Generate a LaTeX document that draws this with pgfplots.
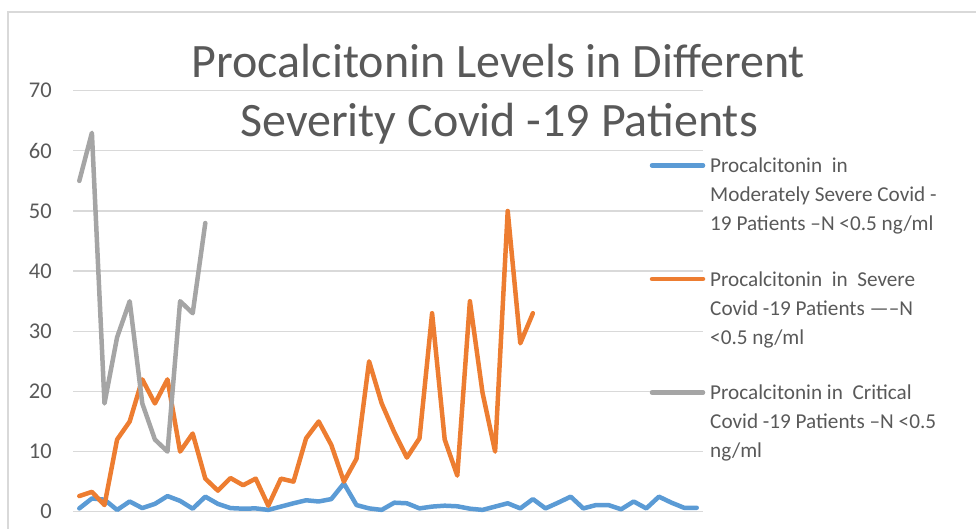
\documentclass[border=0pt]{standalone}
\usepackage{pgfplots}
\pgfplotsset{compat=1.18}
\usepackage{fontspec}
\setmainfont{Carlito}
\definecolor{txt}{HTML}{595959}
\definecolor{gridc}{HTML}{D9D9D9}
\definecolor{cblue}{HTML}{5B9BD5}
\definecolor{corange}{HTML}{ED7D31}
\definecolor{cgray}{HTML}{A5A5A5}

% 1pt = 1px of the reference, y measured from the bottom
\newcommand{\lgline}[2]{\node[anchor=base west,inner sep=0pt,text=txt,font=\fontsize{21.2}{24}\selectfont] at (710,#1) {#2};}

\begin{document}
\begin{tikzpicture}[x=1pt,y=1pt]
\useasboundingbox (0,0) rectangle (976,528);
\draw[gridc, line width=1.3pt] (8,-10) -- (8,516) -- (990,516);

\begin{axis}[
  at={(73pt,16.3pt)}, anchor=south west,
  scale only axis, width=630pt, height=421pt,
  xmin=-0.5, xmax=49.5, ymin=0, ymax=70,
  xtick=\empty, ytick={0,10,...,70},
  axis line style={draw=none}, major tick length=0pt,
  ymajorgrids, grid style={gridc, line width=1.3pt},
  yticklabel style={inner sep=0pt, anchor=east, xshift=-21pt, text=txt,
    font=\fontsize{22.5}{26}\selectfont},
  /pgf/number format/assume math mode=true,
  clip=false,
  every axis plot/.append style={line width=4.5pt, line join=round, line cap=round, mark=none},
]
% Moderately severe
\addplot[cblue] coordinates {
(0,0.55) (1,2.2) (2,2.0) (3,0.3) (4,1.7) (5,0.6) (6,1.3) (7,2.6) (8,1.8) (9,0.5)
(10,2.5) (11,1.3) (12,0.6) (13,0.5) (14,0.55) (15,0.3) (16,0.85) (17,1.4) (18,1.9) (19,1.7)
(20,2.1) (21,4.7) (22,1.1) (23,0.55) (24,0.3) (25,1.5) (26,1.4) (27,0.55) (28,0.85) (29,1.0)
(30,0.9) (31,0.5) (32,0.3) (33,0.85) (34,1.4) (35,0.55) (36,2.1) (37,0.55) (38,1.5) (39,2.5)
(40,0.55) (41,1.1) (42,1.1) (43,0.4) (44,1.7) (45,0.55) (46,2.5) (47,1.5) (48,0.65) (49,0.65)
};
% Severe
\addplot[corange] coordinates {
(0,2.6) (1,3.3) (2,1.1) (3,12) (4,15) (5,22) (6,18) (7,22) (8,10) (9,13)
(10,5.5) (11,3.5) (12,5.6) (13,4.4) (14,5.5) (15,1.0) (16,5.5) (17,5.0) (18,12.2) (19,15)
(20,11.1) (21,5.0) (22,8.8) (23,25) (24,18) (25,13.2) (26,9) (27,12.2) (28,33) (29,12)
(30,6) (31,35) (32,19.8) (33,10) (34,50) (35,28) (36,33)
};
% Critical
\addplot[cgray] coordinates {
(0,55) (1,63) (2,18) (3,29) (4,35) (5,18) (6,12) (7,10) (8,35) (9,33) (10,48)
};
\end{axis}

% title
\node[anchor=base,inner sep=0pt,text=txt,font=\fontsize{48}{54}\selectfont] at (498.5,450) {Procalcitonin Levels in Different};
\node[anchor=base,inner sep=0pt,text=txt,font=\fontsize{48}{54}\selectfont] at (499,391) {Severity Covid -19 Patients};

% legend
\draw[cblue, line width=4.5pt, line cap=round] (652,362.5) -- (703,362.5);
\lgline{355}{Procalcitonin\ \ in}
\lgline{326}{Moderately Severe Covid -}
\lgline{297}{19 Patients –N <0.5 ng/ml}
\draw[corange, line width=4.5pt, line cap=round] (652,249) -- (703,249);
\lgline{241.3}{Procalcitonin\ \ in\ \ Severe}
\lgline{212.3}{Covid -19 Patients —–N}
\lgline{183.3}{<0.5 ng/ml}
\draw[cgray, line width=4.5pt, line cap=round] (652,135.5) -- (703,135.5);
\lgline{129}{Procalcitonin in\ \ Critical}
\lgline{100}{Covid -19 Patients –N <0.5}
\lgline{71}{ng/ml}
\end{tikzpicture}
\end{document}
